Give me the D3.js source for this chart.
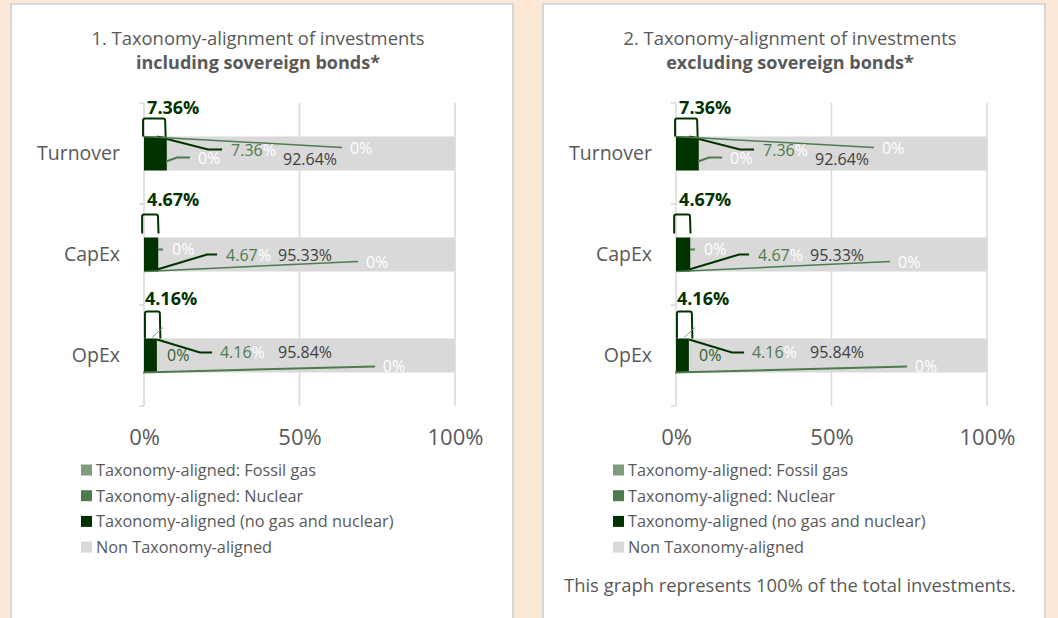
<!DOCTYPE html>
<html>
<head>
<meta charset="utf-8">
<script src="https://cdn.jsdelivr.net/npm/d3@7"></script>
<style>
  body { margin: 0; background: #FBE8D6; }
  svg { display: block; font-family: "Open Sans", sans-serif; }
</style>
</head>
<body>
<div id="chart"></div>
<script>
// chart values
var categories = ["Turnover", "CapEx", "OpEx"];
var fossilGas = [0, 0, 0];
var nuclear = [0, 0, 0];
var aligned = [7.36, 4.67, 4.16];
var nonAligned = [92.64, 95.33, 95.84];
var xTicks = [0, 50, 100];
var seriesNames = ["Taxonomy-aligned: Fossil gas", "Taxonomy-aligned: Nuclear",
  "Taxonomy-aligned (no gas and nuclear)", "Non Taxonomy-aligned"];
var panelTitles = [
  ["1. Taxonomy-alignment of investments", "including sovereign bonds*"],
  ["2. Taxonomy-alignment of investments", "excluding sovereign bonds*"]
];
var footnote = "This graph represents 100% of the total investments.";

var colors = ["#7F9C7F", "#4F7A4F", "#003300", "#D9D9D9"];
var keys = ["fossil", "nuclear", "aligned", "non"];

var rows = categories.map(function(c, i) {
  return { cat: c, fossil: fossilGas[i], nuclear: nuclear[i], aligned: aligned[i], non: nonAligned[i] };
});

// leader-line callouts copied from the Excel layout: [pct, dy from bar top]
var callouts = [
  { cap: { x: 1, dy: -22, box: [-0.3, 6.8, -18, 0] },
    lines: [
      { c: 2, w: 2, pts: [[4.2, 0], [20.6, 13], [25.1, 13]] },
      { c: 1, w: 1.5, pts: [[-0.3, 0], [63.7, 11]] },
      { c: 1, w: 2, pts: [[7.1, 25], [10.6, 21], [14.8, 21]] }
    ],
    labels: [
      { x: 28, dy: 20, t: "7.36", fill: "#4F7A4F", pct: true },
      { x: 66.2, dy: 18, t: "0%", fill: "#ffffff" },
      { x: 17.4, dy: 28, t: "0%", fill: "#ffffff" },
      { x: 44.7, dy: 29, t: "92.64%", fill: "#404040" }
    ] },
  { cap: { x: 1, dy: -31, box: [-0.6, 4.5, -23, -4] },
    lines: [
      { c: 1, w: 2, pts: [[4.5, 12], [6.1, 12]] },
      { c: 2, w: 2, pts: [[4.2, 32], [20.3, 17], [23.5, 17]] },
      { c: 1, w: 1.5, pts: [[0.3, 34], [68.8, 24]] }
    ],
    labels: [
      { x: 9, dy: 18, t: "0%", fill: "#ffffff" },
      { x: 26.4, dy: 24, t: "4.67", fill: "#4F7A4F", pct: true },
      { x: 71.4, dy: 31, t: "0%", fill: "#ffffff" },
      { x: 43.1, dy: 24, t: "95.33%", fill: "#404040" }
    ] },
  { cap: { x: 0.3, dy: -33, box: [0.3, 5.1, -27, 0] },
    lines: [
      { c: 0, w: 1, pts: [[2.6, -1], [6.1, -11]] },
      { c: 2, w: 2, pts: [[4.2, 1], [18, 14], [21.9, 14]] },
      { c: 1, w: 2, pts: [[-0.3, 34], [74.3, 28]] }
    ],
    labels: [
      { x: 24.4, dy: 20, t: "4.16", fill: "#4F7A4F", pct: true },
      { x: 7.4, dy: 23, t: "0%", fill: "#2F5F2F" },
      { x: 76.8, dy: 34, t: "0%", fill: "#ffffff" },
      { x: 43.1, dy: 20, t: "95.84%", fill: "#404040" }
    ] }
];

var svgWidth = 1058, svgHeight = 618;
var svg = d3.select("#chart").append("svg")
  .attr("width", svgWidth)
  .attr("height", svgHeight);

svg.append("rect").attr("width", svgWidth).attr("height", svgHeight).attr("fill", "#FBE8D6");

var stacked = d3.stack().keys(keys)(rows);

function drawPanel(ox, idx) {
  var g = svg.append("g").attr("transform", `translate(${ox},0)`);

  g.append("rect")
    .attr("x", 11).attr("y", 4)
    .attr("width", 502).attr("height", 660)
    .attr("fill", "#ffffff")
    .attr("stroke", "#D6D6D6")
    .attr("stroke-width", 2);

  // titles
  g.append("text").attr("x", 258).attr("y", 45)
    .attr("text-anchor", "middle").attr("font-size", "18.4px").attr("fill", "#595959")
    .text(panelTitles[idx][0]);
  g.append("text").attr("x", 258).attr("y", 69)
    .attr("text-anchor", "middle").attr("font-size", "18px").attr("font-weight", "700").attr("fill", "#595959")
    .text(panelTitles[idx][1]);

  var x = d3.scaleLinear().domain([0, 100]).range([144, 455]);
  var y = d3.scaleBand().domain(categories).range([103, 406])
    .paddingInner(0.663).paddingOuter(0.3315);
  var step = y.step();
  var bounds = categories.map(function(c) { return y(c) - (step - y.bandwidth()) / 2; });
  bounds.push(bounds[bounds.length - 1] + step);

  // gridlines
  g.selectAll(".grid").data(xTicks).enter().append("line")
    .attr("x1", d => x(d)).attr("x2", d => x(d))
    .attr("y1", bounds[0]).attr("y2", bounds[bounds.length - 1])
    .attr("stroke", "#D9D9D9").attr("stroke-width", 1.5);

  g.selectAll(".ytick").data(bounds).enter().append("line")
    .attr("x1", x(0) - 5).attr("x2", x(0))
    .attr("y1", d => d).attr("y2", d => d)
    .attr("stroke", "#D9D9D9").attr("stroke-width", 1.5);

  // x axis labels
  var xAxis = g.append("g")
    .attr("transform", `translate(0, ${bounds[bounds.length - 1]})`)
    .call(d3.axisBottom(x).tickValues(xTicks).tickSize(0).tickPadding(23).tickFormat(d => d + "%"));
  xAxis.select(".domain").remove();
  xAxis.selectAll("text").attr("font-size", "22px").attr("fill", "#595959").attr("font-family", "Open Sans");

  // category labels
  var yAxis = g.append("g")
    .attr("transform", `translate(${x(0)}, 0)`)
    .call(d3.axisLeft(y).tickSize(0).tickPadding(24));
  yAxis.select(".domain").remove();
  yAxis.selectAll("text").attr("font-size", "19.5px").attr("fill", "#595959").attr("font-family", "Open Sans");

  // bars
  g.selectAll(".series").data(stacked).enter().append("g")
    .attr("fill", (d, i) => colors[i])
    .selectAll("rect").data(d => d).enter().append("rect")
    .attr("x", d => x(d[0]))
    .attr("y", d => y(d.data.cat))
    .attr("width", d => x(d[1]) - x(d[0]))
    .attr("height", y.bandwidth());

  // callouts
  var line = d3.line();
  categories.forEach(function(c, i) {
    var top = y(c);
    var co = callouts[i];
    var b = co.cap.box;
    var path = d3.path();
    path.moveTo(x(b[0]), top + b[3]);
    path.lineTo(x(b[0]), top + b[2] + 2);
    path.quadraticCurveTo(x(b[0]), top + b[2], x(b[0]) + 2, top + b[2]);
    path.lineTo(x(b[1]) - 2, top + b[2]);
    path.quadraticCurveTo(x(b[1]), top + b[2], x(b[1]), top + b[2] + 2);
    path.lineTo(x(b[1]) + 0.5, top + b[3]);
    g.append("path").attr("d", path.toString())
      .attr("fill", "none").attr("stroke", colors[2]).attr("stroke-width", 2);

    g.append("text").attr("x", x(co.cap.x)).attr("y", top + co.cap.dy)
      .attr("font-size", "18px").attr("font-weight", "700").attr("fill", colors[2])
      .text(aligned[i].toFixed(2) + "%");

    co.lines.forEach(function(l) {
      g.append("path")
        .attr("d", line(l.pts.map(p => [x(p[0]), top + p[1]])))
        .attr("fill", "none").attr("stroke", colors[l.c]).attr("stroke-width", l.w);
    });

    co.labels.forEach(function(l) {
      var t = g.append("text").attr("x", x(l.x)).attr("y", top + l.dy)
        .attr("font-size", "16px").attr("fill", l.fill);
      if (l.pct) {
        t.append("tspan").text(l.t);
        t.append("tspan").attr("fill", "#ffffff").text("%");
      } else {
        t.text(l.t);
      }
    });
  });

  // legend
  var leg = g.selectAll(".leg").data(seriesNames).enter().append("g")
    .attr("transform", (d, i) => `translate(81, ${470 + i * 25.7})`);
  leg.append("rect").attr("x", 0).attr("y", -5.5).attr("width", 11).attr("height", 11)
    .attr("fill", (d, i) => colors[i]);
  leg.append("text").attr("x", 15).attr("y", 6)
    .attr("font-size", "16.3px").attr("fill", "#595959")
    .text(d => d);

  if (idx === 1) {
    g.append("text").attr("x", 258).attr("y", 592)
      .attr("text-anchor", "middle").attr("font-size", "18.4px").attr("fill", "#595959")
      .text(footnote);
  }
}

drawPanel(0, 0);
drawPanel(532, 1);
</script>
</body>
</html>
